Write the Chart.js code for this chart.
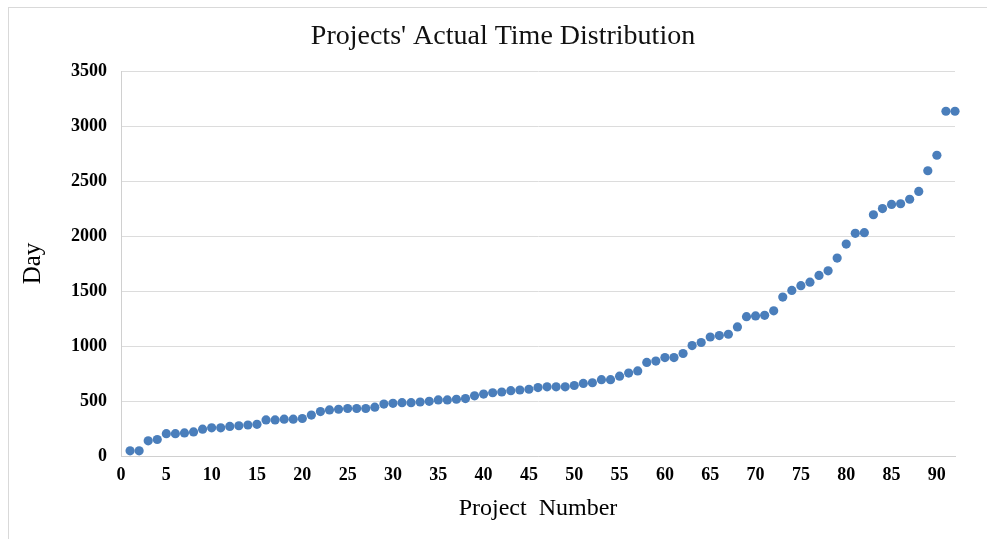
<!DOCTYPE html>
<html>
<head>
<meta charset="utf-8">
<script src="https://cdn.jsdelivr.net/npm/chart.js@4"></script>
<style>
  html, body { margin: 0; padding: 0; background: #fff; overflow: hidden; }
  #wrap { position: relative; width: 987px; height: 539px; }
  #frame { position: absolute; left: 8px; top: 7px; width: 1000px; height: 600px; border: 1px solid #d9d9d9; box-sizing: border-box; }
  #c { position: absolute; left: 0; top: 0; }
</style>
</head>
<body>
<div id="wrap">
  <div id="frame"></div>
  <canvas id="c" width="987" height="539"></canvas>
</div>
<script>
// datos
var chartTitle = "Projects' Actual Time Distribution";
var xTitle = "Project  Number";
var yTitle = "Day";

var projectNumbers = [1,2,3,4,5,6,7,8,9,10,11,12,13,14,15,16,17,18,19,20,
  21,22,23,24,25,26,27,28,29,30,31,32,33,34,35,36,37,38,39,40,
  41,42,43,44,45,46,47,48,49,50,51,52,53,54,55,56,57,58,59,60,
  61,62,63,64,65,66,67,68,69,70,71,72,73,74,75,76,77,78,79,80,
  81,82,83,84,85,86,87,88,89,90,91,92];

var days = [47,47,138,150,203,203,210,219,244,256,
  256,269,275,282,288,328,328,335,335,341,
  372,404,419,425,432,432,432,444,472,479,
  485,485,491,497,510,510,516,522,547,563,
  575,582,594,600,607,622,629,629,629,641,
  660,666,694,694,726,754,773,851,863,895,
  895,932,1004,1032,1082,1095,1107,1173,1267,1273,
  1279,1320,1445,1505,1548,1580,1642,1683,1799,1927,
  2024,2030,2193,2249,2287,2293,2334,2405,2593,2734,
  3134,3134];

var xMin = 0, xMax = 92, xStep = 5;
var yMin = 0, yMax = 3500, yStep = 500;

var puntos = projectNumbers.map(function(x, i) { return {x: x, y: days[i]}; });

var serif = "'Liberation Serif', 'Times New Roman', serif";

// titulo dibujado a mano para poder centrarlo como en el original
var tituloPlugin = {
  id: 'tituloManual',
  afterDraw: function(chart) {
    var ctx = chart.ctx;
    ctx.save();
    ctx.font = "28px " + serif;
    ctx.fillStyle = "#111";
    ctx.textAlign = "center";
    ctx.textBaseline = "middle";
    ctx.fillText(chartTitle, 503, 37);
    ctx.restore();
  }
};

new Chart(document.getElementById('c'), {
  type: 'scatter',
  data: {
    datasets: [{
      label: yTitle,
      data: puntos,
      backgroundColor: '#4a7ebb',
      borderColor: '#4a7ebb',
      borderWidth: 0,
      pointRadius: 4.6,
      pointHoverRadius: 4.6,
      clip: false
    }]
  },
  options: {
    responsive: false,
    animation: false,
    devicePixelRatio: 1,
    layout: { padding: { top: 71, right: 32, bottom: 0, left: 0 } },
    plugins: {
      legend: { display: false },
      title: { display: false },
      tooltip: { enabled: false }
    },
    scales: {
      x: {
        type: 'linear',
        min: xMin,
        max: xMax,
        afterFit: function(s) { s.height = 83; },
        grid: { display: false, drawTicks: false },
        border: { display: true, color: '#d0d0d0' },
        ticks: {
          stepSize: xStep,
          includeBounds: false,
          padding: 9,
          color: '#000',
          font: { family: serif, size: 18, weight: 'bold' },
          callback: function(v) { return String(v); }
        },
        title: {
          display: true,
          text: xTitle,
          color: '#000',
          font: { family: serif, size: 24 },
          padding: { top: 0, bottom: 16 }
        }
      },
      y: {
        min: yMin,
        max: yMax,
        afterFit: function(s) { s.width = 121; },
        grid: { color: '#dcdcdc', drawTicks: false },
        border: { display: true, color: '#d0d0d0' },
        ticks: {
          stepSize: yStep,
          padding: 14,
          color: '#000',
          font: { family: serif, size: 18, weight: 'bold' },
          callback: function(v) { return String(v); }
        },
        title: {
          display: true,
          text: yTitle,
          color: '#000',
          font: { family: serif, size: 25 },
          padding: { top: 18, bottom: 0 }
        }
      }
    }
  },
  plugins: [tituloPlugin]
});
</script>
</body>
</html>
